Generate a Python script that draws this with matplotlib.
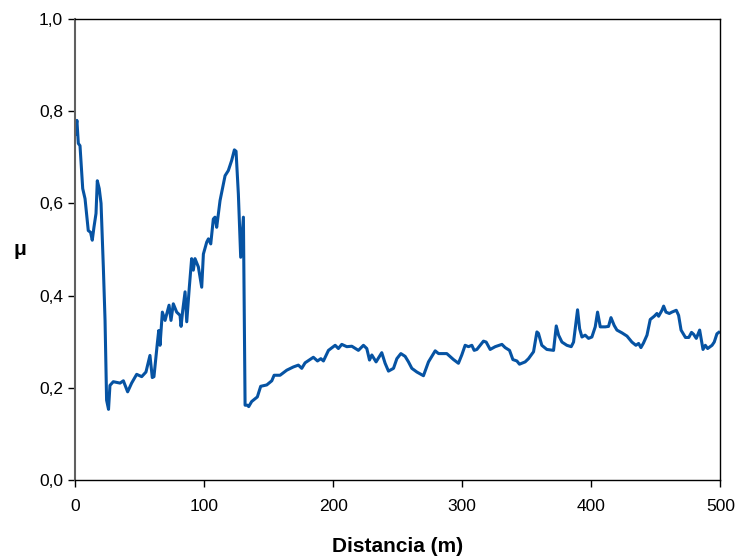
import matplotlib
matplotlib.use("Agg")
from matplotlib import pyplot as plt

# distancia (m) y coeficiente de rozamiento
distancia = [0, 1.5, 2.6, 3.9, 6, 7.8, 10.3, 12.1, 13.4, 14.7, 16.3, 17.3, 18.8, 20.2,
             22, 23.3, 24.5, 26, 27.1, 29.7, 34.9, 37.5, 40.8, 43.9, 47.8, 51.7, 55,
             58.1, 59.9, 61.2, 63.8, 64.9, 65.9, 67.7, 69.8, 72.9, 74.4, 76.2, 78.8,
             81.4, 82.2, 83.5, 85.3, 86.6, 88.6, 90.4, 91.7, 93, 95.6, 98.2, 99.5,
             102.1, 103.4, 105.2, 107.2, 108.5, 109.8, 112.4, 116.3, 118.8, 121.4,
             123.5, 124.8, 126.6, 128.4, 130.5, 131.8, 133.6, 134.6, 136.9, 141.3,
             143.9, 148.6, 152.5, 154.3, 158.9, 164.1, 169.2, 173.1, 175.7, 178.3,
             184.7, 187.9, 190.5, 192.5, 196.4, 201.6, 204.1, 206.7, 210.6, 214.5,
             219.6, 223.5, 226.1, 228.2, 230, 233.3, 237.7, 240.3, 242.9, 246.8,
             249.4, 252.5, 255.8, 258.4, 261, 264.9, 270, 273.9, 279.1, 281.7, 288.1,
             293.3, 297.1, 299.7, 302.3, 304.9, 307.5, 309.3, 311.4, 316.5, 318.6,
             321.7, 325.6, 330.8, 333.3, 336.7, 339.3, 342.4, 344.4, 348.8, 351.4,
             355.3, 357.9, 359.1, 361.7, 365.6, 370.8, 372.9, 374.7, 377.3, 381.1,
             384.5, 386.3, 389.4, 391, 392.8, 395.3, 397.9, 400.5, 403.1, 404.9, 407,
             410.9, 413.4, 415.3, 417.8, 419.9, 423.8, 427.7, 431.5, 434.6, 436.7,
             438.5, 440.5, 443.2, 445.7, 448.8, 450.9, 452.2, 454.8, 456.1, 457.9,
             460.5, 462.5, 465.9, 467.7, 469.6, 473, 475.6, 477.7, 479.3, 481.4, 484,
             486.6, 488.4, 490.2, 493.6, 495.3, 497.4, 498.8]
mu = [0.75, 0.78, 0.73, 0.725, 0.632, 0.61, 0.541, 0.537, 0.52, 0.548, 0.578, 0.649,
      0.632, 0.60, 0.46, 0.346, 0.173, 0.153, 0.205, 0.213, 0.21, 0.215, 0.191, 0.21,
      0.229, 0.224, 0.234, 0.27, 0.222, 0.224, 0.296, 0.324, 0.292, 0.364, 0.346,
      0.379, 0.346, 0.382, 0.364, 0.357, 0.333, 0.368, 0.408, 0.343, 0.418, 0.48,
      0.455, 0.48, 0.462, 0.418, 0.49, 0.516, 0.523, 0.512, 0.566, 0.57, 0.548, 0.606,
      0.66, 0.671, 0.693, 0.716, 0.713, 0.62, 0.483, 0.57, 0.162, 0.162, 0.159, 0.17,
      0.18, 0.203, 0.206, 0.215, 0.227, 0.227, 0.238, 0.245, 0.249, 0.242, 0.254,
      0.266, 0.258, 0.263, 0.258, 0.281, 0.292, 0.285, 0.294, 0.289, 0.29, 0.281,
      0.292, 0.285, 0.26, 0.271, 0.256, 0.276, 0.253, 0.236, 0.242, 0.263, 0.274,
      0.268, 0.256, 0.242, 0.234, 0.226, 0.256, 0.28, 0.274, 0.274, 0.261, 0.253,
      0.271, 0.292, 0.289, 0.292, 0.281, 0.283, 0.301, 0.299, 0.283, 0.289, 0.294,
      0.287, 0.281, 0.261, 0.258, 0.251, 0.256, 0.263, 0.278, 0.321, 0.318, 0.292,
      0.283, 0.281, 0.334, 0.314, 0.299, 0.292, 0.289, 0.299, 0.369, 0.328, 0.31,
      0.314, 0.307, 0.31, 0.332, 0.364, 0.332, 0.332, 0.333, 0.352, 0.335, 0.325,
      0.319, 0.312, 0.299, 0.292, 0.296, 0.287, 0.297, 0.314, 0.348, 0.355, 0.361,
      0.355, 0.368, 0.377, 0.364, 0.361, 0.364, 0.368, 0.357, 0.325, 0.309, 0.309,
      0.32, 0.316, 0.307, 0.325, 0.283, 0.292, 0.285, 0.292, 0.299, 0.317, 0.32]

x_ticks = [0, 100, 200, 300, 400, 500]
y_ticks = [0.0, 0.2, 0.4, 0.6, 0.8, 1.0]
y_labels = ['0,0', '0,2', '0,4', '0,6', '0,8', '1,0']

plt.rcParams['font.family'] = ['Liberation Sans', 'DejaVu Sans']

fig = plt.figure(figsize=(7.35, 5.58), dpi=100)
ax = fig.add_axes([0.102, 0.14, 0.878, 0.826])

ax.plot(distancia, mu, color='#0653a3', linewidth=2.2, solid_joinstyle='round')

ax.set_xlim(0, 500)
ax.set_ylim(0, 1.0)
ax.set_xticks(x_ticks)
ax.set_yticks(y_ticks)
ax.set_yticklabels(y_labels)
ax.tick_params(direction='out', length=5, width=1, labelsize=12.5, colors='black')
ax.tick_params(axis='x', pad=9)

for side in ['top', 'right', 'bottom']:
    ax.spines[side].set_color('black')
    ax.spines[side].set_linewidth(1.0)
ax.spines['left'].set_color('#606060')
ax.spines['left'].set_linewidth(1.5)

ax.set_xlabel('Distancia (m)', fontsize=15, fontweight='bold', labelpad=16)
ax.set_ylabel('μ', fontsize=15, fontweight='bold', rotation=0, labelpad=14, va='center')

fig.savefig('out.png', dpi=100)
